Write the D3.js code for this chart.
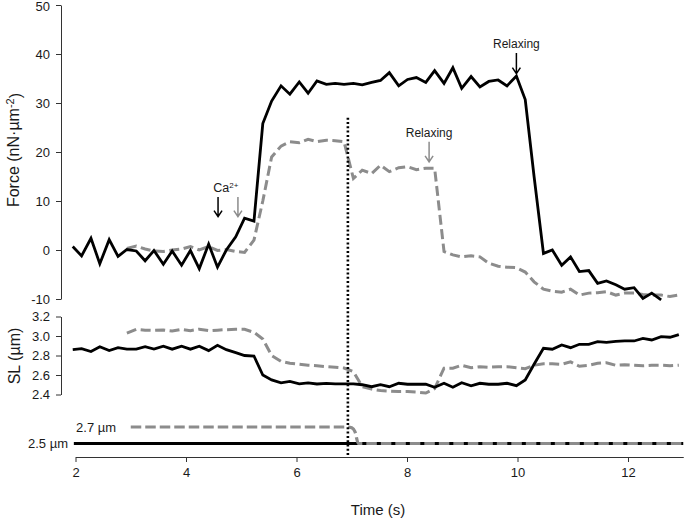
<!DOCTYPE html>
<html><head><meta charset="utf-8">
<script src="https://cdn.jsdelivr.net/npm/d3@7"></script>
<style>
body{margin:0;background:#fff;}
svg{display:block;font-family:"Liberation Sans",Arial,Helvetica,sans-serif;}
</style></head><body>
<svg id="chart" width="685" height="520"></svg>
<script>
// ---- data ----
const sampleTimes = [1.95,2.11,2.28,2.44,2.61,2.77,2.93,3.10,3.26,3.42,3.59,3.75,3.92,4.08,4.24,4.41,4.57,4.73,4.90,5.06,5.23,5.39,5.55,5.72,5.88,6.05,6.21,6.37,6.54,6.70,6.86,7.03,7.19,7.36,7.52,7.68,7.85,8.01,8.17,8.34,8.50,8.67,8.83,8.99,9.16,9.32,9.48,9.65,9.81,9.98,10.14,10.30,10.47,10.63,10.80,10.96,11.12,11.29,11.45,11.61,11.78,11.94,12.11,12.27,12.43,12.60,12.76,12.92];

// Force, 2.5 µm protocol (black), samples 0..65
const forceBlack = [0.7,-1.2,2.4,-2.8,2.1,-1.3,0.1,-0.2,-2.2,-0.1,-2.9,-0.2,-3.1,-0.1,-3.8,1.2,-3.5,0.0,2.7,6.5,5.9,25.8,30.4,33.5,31.8,34.3,32.0,34.5,33.8,34.0,33.8,34.0,33.7,34.2,34.6,36.2,33.5,34.8,35.2,34.2,36.6,34.0,37.2,33.0,35.4,33.3,34.4,34.7,33.5,35.5,30.7,15.0,-0.7,0.0,-3.1,-1.4,-4.4,-4.2,-6.8,-6.3,-7.1,-8.0,-7.7,-9.9,-8.8,-10.2];
// Force, 2.7 µm protocol (grey dashed), samples 6..67
const forceGray = [0.3,0.8,0.2,-0.2,-0.3,0.0,0.2,0.7,0.0,0.7,-0.1,0.1,-0.3,-0.5,2.0,10.0,19.0,21.2,22.1,21.9,22.6,22.1,22.4,22.3,22.1,14.6,16.3,15.6,17.3,16.0,16.8,17.0,16.4,16.7,16.7,-0.3,-1.0,-1.4,-1.2,-1.4,-2.7,-3.3,-3.5,-3.6,-4.5,-6.5,-8.0,-8.4,-8.6,-8.0,-9.2,-8.8,-8.7,-8.5,-9.2,-8.8,-8.8,-9.1,-9.2,-9.2,-9.5,-9.2];
// Sarcomere length, black, samples 0..67
const slBlack = [2.86,2.87,2.84,2.89,2.85,2.88,2.865,2.865,2.89,2.865,2.895,2.865,2.895,2.865,2.895,2.85,2.905,2.86,2.83,2.80,2.795,2.60,2.55,2.52,2.535,2.51,2.52,2.508,2.515,2.51,2.51,2.51,2.50,2.48,2.50,2.48,2.515,2.505,2.505,2.505,2.474,2.515,2.474,2.521,2.49,2.515,2.505,2.505,2.515,2.49,2.549,2.71,2.874,2.864,2.908,2.88,2.915,2.915,2.942,2.935,2.945,2.949,2.949,2.976,2.959,2.993,2.987,3.015];
// Sarcomere length, grey dashed, samples 6..67
const slGray = [3.03,3.068,3.06,3.058,3.062,3.051,3.068,3.055,3.07,3.055,3.06,3.065,3.068,3.068,3.038,2.97,2.80,2.74,2.72,2.71,2.70,2.695,2.685,2.68,2.672,2.634,2.48,2.455,2.44,2.435,2.43,2.43,2.425,2.415,2.46,2.67,2.67,2.70,2.675,2.685,2.68,2.685,2.685,2.675,2.665,2.70,2.715,2.715,2.71,2.735,2.69,2.70,2.72,2.726,2.70,2.705,2.70,2.695,2.70,2.70,2.695,2.70];

// length command traces
const cmdBlackTimes = [1.97, 13.0];
const cmdBlackValues = [2.5, 2.5];
const cmdGrayTimes = [3.0, 6.93, 7.0, 7.06, 7.12, 13.0];
const cmdGrayValues = [2.7, 2.7, 2.69, 2.64, 2.5, 2.5];

const xTicks = [2, 4, 6, 8, 10, 12];
const forceTicks = [-10, 0, 10, 20, 30, 40, 50];
const slTicks = [2.4, 2.6, 2.8, 3.0, 3.2];
const stepTime = 6.93;

const caArrows = [
  {t: 4.58, from: 10.8, to: 6.8, color: "#000"},
  {t: 4.94, from: 10.8, to: 6.8, color: "#8c8c8c"}
];
const caLabel = {t: 4.72, y: 12.7};
const relaxNotes = [
  {t: 9.98, textY: 42.0, from: 40.2, to: 36.0, color: "#000"},
  {t: 8.40, textY: 23.9, from: 22.1, to: 18.0, color: "#8c8c8c"}
];

// ---- layout ----
const svg = d3.select("#chart");
const axisX = 61;
const x = d3.scaleLinear().domain([2, 13]).range([75.5, 683.25]);
const yF = d3.scaleLinear().domain([-10, 50]).range([299, 5]);
const ySL = d3.scaleLinear().domain([2.4, 3.2]).range([394.5, 316.5]);
const yC = d3.scaleLinear().domain([2.5, 2.7]).range([443.5, 427]);
const xAxisY = 457;
const GRAY = "#8c8c8c";
const AX = "#333";

function styleAxis(g) {
  g.selectAll("path.domain").attr("stroke", AX).attr("stroke-width", 1);
  g.selectAll(".tick line").attr("stroke", AX).attr("stroke-width", 1);
  g.selectAll(".tick text").attr("fill", "#1a1a1a").style("font-size", "13px")
    .style("font-family", '"Liberation Sans",Arial,sans-serif');
}
const hyphenInt = d => String(d).replace("\u2212", "-");

// axes
svg.append("g").attr("transform", `translate(${axisX},0)`)
  .call(d3.axisLeft(yF).tickValues(forceTicks).tickSize(5).tickSizeOuter(0).tickPadding(6).tickFormat(hyphenInt))
  .call(styleAxis)
  .call(g => g.selectAll(".tick text").filter(d => d === 50).attr("dy", "0.45em"));
svg.append("g").attr("transform", `translate(${axisX},0)`)
  .call(d3.axisLeft(ySL).tickValues(slTicks).tickSize(5).tickSizeOuter(0).tickPadding(6).tickFormat(d3.format(".1f")))
  .call(styleAxis);
svg.append("g").attr("transform", `translate(0,${xAxisY})`)
  .call(d3.axisBottom(x).tickValues(xTicks).tickSize(5).tickSizeOuter(0).tickPadding(6).tickFormat(d3.format("d")))
  .call(styleAxis);

// axis titles
const ft = svg.append("text").attr("transform", "translate(13,150) rotate(-90)")
  .attr("text-anchor", "middle").attr("dy", "0.35em").style("font-size", "16px").attr("fill", "#1a1a1a");
ft.append("tspan").text("Force (nN·µm");
ft.append("tspan").attr("dy", "-0.45em").style("font-size", "11px").text("-2");
ft.append("tspan").attr("dy", "0.45em").text(")");
svg.append("text").attr("transform", "translate(14,356) rotate(-90)")
  .attr("text-anchor", "middle").attr("dy", "0.35em").style("font-size", "16px").attr("fill", "#1a1a1a")
  .text("SL (µm)");
svg.append("text").attr("x", 378).attr("y", 510).attr("text-anchor", "middle")
  .attr("dy", "0.35em").style("font-size", "15px").attr("fill", "#1a1a1a").text("Time (s)");

// lines
function series(times, vals, offset) {
  return vals.map((v, i) => ({t: times[i + offset], v}));
}
const lineF = d3.line().x(d => x(d.t)).y(d => yF(d.v));
const lineS = d3.line().x(d => x(d.t)).y(d => ySL(d.v));
const lineC = d3.line().x(d => x(d.t)).y(d => yC(d.v)).curve(d3.curveMonotoneX);

const dashG = "10,4.5";
svg.append("path").datum(series(sampleTimes, forceGray, 6)).attr("d", lineF)
  .attr("fill", "none").attr("stroke", GRAY).attr("stroke-width", 3).attr("stroke-dasharray", dashG);
svg.append("path").datum(series(sampleTimes, forceBlack, 0)).attr("d", lineF)
  .attr("fill", "none").attr("stroke", "#000").attr("stroke-width", 2.8);

svg.append("path").datum(series(sampleTimes, slGray, 6)).attr("d", lineS)
  .attr("fill", "none").attr("stroke", GRAY).attr("stroke-width", 3).attr("stroke-dasharray", dashG);
svg.append("path").datum(series(sampleTimes, slBlack, 0)).attr("d", lineS)
  .attr("fill", "none").attr("stroke", "#000").attr("stroke-width", 2.8);

svg.append("path").datum(cmdBlackTimes.map((t, i) => ({t, v: cmdBlackValues[i]}))).attr("d", lineC)
  .attr("fill", "none").attr("stroke", "#000").attr("stroke-width", 3);
svg.append("path").datum(cmdGrayTimes.map((t, i) => ({t, v: cmdGrayValues[i]}))).attr("d", lineC)
  .attr("fill", "none").attr("stroke", GRAY).attr("stroke-width", 3.2).attr("stroke-dasharray", "10.5,4");

// labels for command traces
svg.append("text").attr("x", axisX + 7).attr("y", yC(2.5)).attr("dy", "0.35em").attr("text-anchor", "end")
  .style("font-size", "13px").attr("fill", "#1a1a1a").text("2.5 µm");
svg.append("text").attr("x", x(2.01)).attr("y", yC(2.7)).attr("dy", "0.35em").attr("text-anchor", "start")
  .style("font-size", "13px").attr("fill", "#1a1a1a").text("2.7 µm");

// vertical dotted step marker
svg.append("line").attr("x1", x(stepTime)).attr("x2", x(stepTime))
  .attr("y1", yF(27)).attr("y2", yC(2.36))
  .attr("stroke", "#000").attr("stroke-width", 2.6).attr("stroke-dasharray", "2,2.3");

// arrows
function arrow(t, from, to, color) {
  const ax = x(t), y0 = yF(from), y1 = yF(to);
  svg.append("path")
    .attr("d", `M${ax},${y0}L${ax},${y1}M${ax - 4},${y1 - 6}L${ax},${y1}L${ax + 4},${y1 - 6}`)
    .attr("fill", "none").attr("stroke", color).attr("stroke-width", 1.5);
}
caArrows.forEach(a => arrow(a.t, a.from, a.to, a.color));
const ca = svg.append("text").attr("x", x(caLabel.t)).attr("y", yF(caLabel.y)).attr("dy", "0.35em")
  .attr("text-anchor", "middle").style("font-size", "12.5px").attr("fill", "#1a1a1a");
ca.append("tspan").text("Ca");
ca.append("tspan").attr("dy", "-0.5em").style("font-size", "8px").text("2+");

relaxNotes.forEach(r => {
  arrow(r.t, r.from, r.to, r.color);
  svg.append("text").attr("x", x(r.t)).attr("y", yF(r.textY)).attr("dy", "0.35em")
    .attr("text-anchor", "middle").style("font-size", "12px").attr("fill", "#1a1a1a").text("Relaxing");
});
</script>
</body></html>
